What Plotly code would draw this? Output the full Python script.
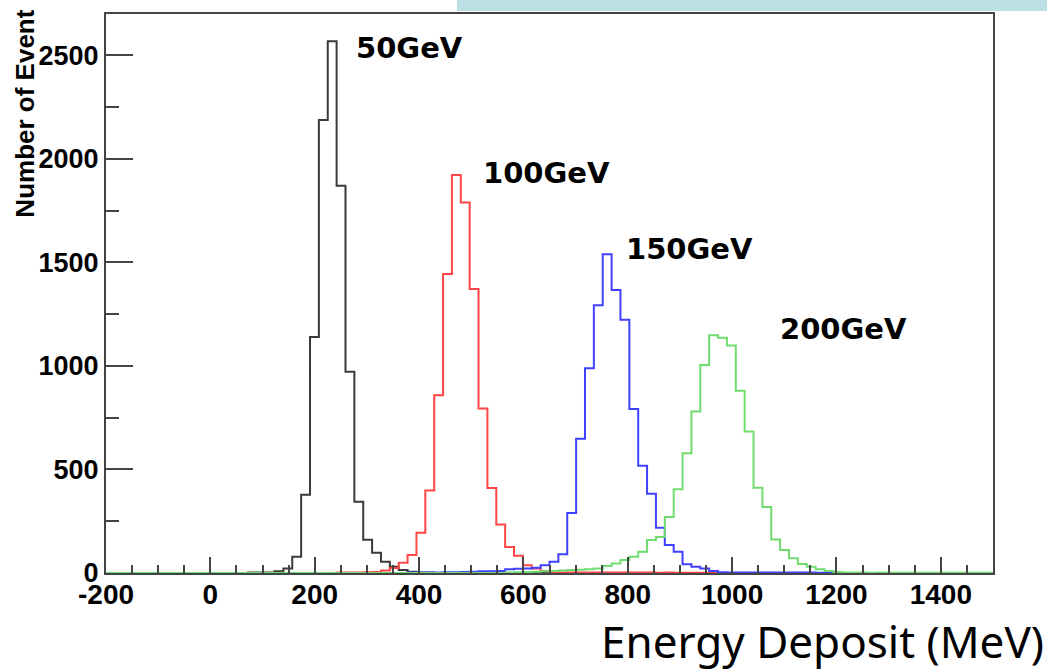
import numpy as np
import plotly.graph_objects as go

# ---- data (histograms: 100 bins of 17 MeV from -200 to 1500) ----
x_min = -200
bin_width = 17
n_bins = 100

black_start = 16
black_counts = [2, 3, 3, 8, 22, 79, 378, 1140, 2188, 2568, 1870, 972, 344, 160, 98,
                54, 30, 14, 6, 3, 2]

red_start = 26
red_counts = [2, 3, 3, 4, 5, 12, 24, 50, 87, 194, 399, 859, 1444, 1922, 1790, 1372,
              795, 410, 234, 126, 83, 38, 22, 10, 5, 3, 3, 2, 2, 3, 2, 2, 3, 2, 2,
              2, 1, 2, 1, 1, 1, 1]

blue_start = 34
blue_counts = [2, 2, 3, 3, 4, 4, 5, 6, 8, 9, 10, 18, 20, 22, 25, 38, 54, 91, 290,
               648, 989, 1293, 1540, 1367, 1223, 792, 518, 383, 219, 135, 103, 42,
               30, 22, 10, 4, 3, 3, 3, 2, 3, 2, 2, 3, 2, 2, 1, 1, 1]

green_start = 45
green_counts = [3, 4, 5, 6, 8, 10, 12, 14, 16, 18, 22, 34, 46, 63, 79, 103, 159,
                174, 271, 405, 578, 780, 1005, 1148, 1136, 1099, 880, 684, 412, 319,
                162, 111, 71, 43, 30, 18, 10, 5, 3, 2, 2, 1, 2, 1, 1, 1, 1, 1, 1, 1,
                1, 1, 1, 1, 1]

series_names = ["50GeV", "100GeV", "150GeV", "200GeV"]
label_x = [275, 518, 793, 1087]
label_y = [2535, 1930, 1565, 1180]

x_ticks = [-200, 0, 200, 400, 600, 800, 1000, 1200, 1400]
y_ticks = [0, 500, 1000, 1500, 2000, 2500]

# ---- build full histograms ----
edges = x_min + bin_width * np.arange(n_bins + 1)


def full(start, vals):
    h = np.zeros(n_bins)
    h[start:start + len(vals)] = vals
    return h


hists = [full(black_start, black_counts), full(red_start, red_counts),
         full(blue_start, blue_counts), full(green_start, green_counts)]
colors = ["#3a3a3a", "#ff4545", "#4040ff", "#70dc70"]

fig = go.Figure()
for h, c, name in zip(hists, colors, series_names):
    y = np.append(h, h[-1])
    fig.add_trace(go.Scatter(x=edges, y=y, mode="lines", line_shape="hv",
                             line=dict(color=c, width=2), name=name,
                             showlegend=False, hoverinfo="skip"))

for name, lx, ly in zip(series_names, label_x, label_y):
    fig.add_annotation(x=lx, y=ly, xref="x", yref="y", text="<b>" + name + "</b>",
                       showarrow=False, xanchor="left", yanchor="middle",
                       font=dict(family="DejaVu Sans", size=29, color="black"))

# axis titles
fig.add_annotation(x=(25 - 106) / 887, y=(573 - 112) / 561, xref="paper", yref="paper",
                   text="<b>Number of Event</b>", textangle=-90, showarrow=False,
                   xanchor="center", yanchor="middle",
                   font=dict(family="Liberation Sans", size=26, color="black"))
fig.add_annotation(x=(1046 - 106) / 887, y=(573 - 641) / 561, xref="paper", yref="paper",
                   text="Energy Deposit (MeV)", showarrow=False,
                   xanchor="right", yanchor="middle",
                   font=dict(family="Noto Sans", size=44, color="black"))

# light blue bar at top
fig.add_shape(type="rect", xref="paper", yref="paper",
              x0=(457 - 106) / 887, x1=(1047 - 106) / 887,
              y0=(573 - 9) / 561, y1=(573 + 2) / 561,
              fillcolor="#bbe1e4", line=dict(width=0), layer="above")

fig.update_xaxes(range=[-200, 1500], tickvals=x_ticks,
                 ticktext=["<b>%d</b>" % v for v in x_ticks],
                 ticks="inside", ticklen=16, tickwidth=2, tickcolor="#444",
                 minor=dict(dtick=50, tick0=0, ticks="inside", ticklen=8,
                            tickwidth=2, tickcolor="#444", showgrid=False),
                 showline=True, linecolor="#444", linewidth=2, mirror=True,
                 showgrid=False, zeroline=False, ticklabelstandoff=-5,
                 tickfont=dict(family="Liberation Sans", size=28, color="black"))
fig.update_yaxes(range=[0, 2700], tickvals=y_ticks,
                 ticktext=["<b>%d</b>" % v for v in y_ticks],
                 ticks="inside", ticklen=27, tickwidth=2, tickcolor="#444",
                 minor=dict(dtick=250, tick0=0, ticks="inside", ticklen=13,
                            tickwidth=2, tickcolor="#444", showgrid=False),
                 showline=True, linecolor="#444", linewidth=2, mirror=True,
                 showgrid=False, zeroline=False,
                 tickfont=dict(family="Liberation Sans", size=27, color="black"))

fig.update_layout(width=1047, height=670, plot_bgcolor="white", paper_bgcolor="white",
                  margin=dict(l=106, r=54, t=12, b=97), showlegend=False)

fig.write_html("out.html")
